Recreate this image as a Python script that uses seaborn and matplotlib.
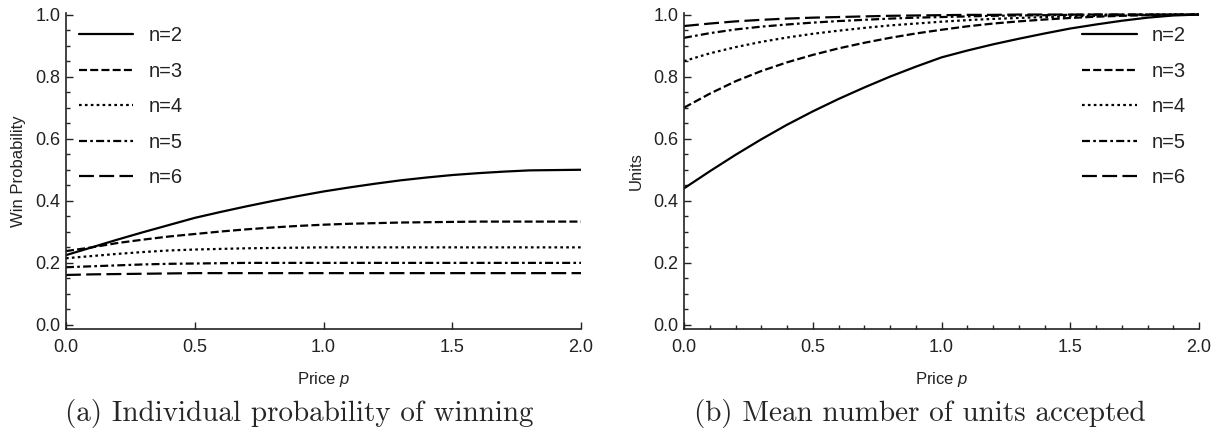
import numpy as np
import pandas as pd
import matplotlib
matplotlib.use("Agg")
import matplotlib.pyplot as plt
from matplotlib.ticker import MultipleLocator
import seaborn as sns

# ---------------- data ----------------
price = [0.0, 0.1, 0.2, 0.3, 0.4, 0.5, 0.6, 0.7, 0.8, 0.9, 1.0,
         1.1, 1.2, 1.3, 1.4, 1.5, 1.6, 1.7, 1.8, 1.9, 2.0]
series_names = ["n=2", "n=3", "n=4", "n=5", "n=6"]

win_n2 = [0.225, 0.250, 0.275, 0.299, 0.322, 0.345, 0.364, 0.382, 0.399, 0.415, 0.430,
          0.443, 0.455, 0.466, 0.475, 0.483, 0.489, 0.494, 0.498, 0.499, 0.500]
win_n3 = [0.238, 0.250, 0.264, 0.275, 0.285, 0.293, 0.301, 0.308, 0.314, 0.319, 0.323,
          0.326, 0.328, 0.330, 0.331, 0.332, 0.333, 0.333, 0.333, 0.333, 0.333]
win_n4 = [0.215, 0.222, 0.229, 0.235, 0.240, 0.243, 0.245, 0.247, 0.248, 0.249, 0.250,
          0.250, 0.250, 0.250, 0.250, 0.250, 0.250, 0.250, 0.250, 0.250, 0.250]
win_n5 = [0.186, 0.189, 0.192, 0.195, 0.197, 0.198, 0.199, 0.200, 0.200, 0.200, 0.200,
          0.200, 0.200, 0.200, 0.200, 0.200, 0.200, 0.200, 0.200, 0.200, 0.200]
win_n6 = [0.161, 0.163, 0.164, 0.165, 0.166, 0.167, 0.167, 0.167, 0.167, 0.167, 0.167,
          0.167, 0.167, 0.167, 0.167, 0.167, 0.167, 0.167, 0.167, 0.167, 0.167]

units_n2 = [0.440, 0.495, 0.548, 0.598, 0.645, 0.688, 0.728, 0.765, 0.800, 0.832, 0.862,
            0.884, 0.904, 0.922, 0.939, 0.955, 0.968, 0.980, 0.990, 0.997, 1.000]
units_n3 = [0.700, 0.745, 0.785, 0.818, 0.846, 0.870, 0.891, 0.909, 0.925, 0.939, 0.951,
            0.962, 0.971, 0.978, 0.984, 0.989, 0.993, 0.996, 0.998, 0.999, 1.000]
units_n4 = [0.850, 0.875, 0.895, 0.912, 0.926, 0.938, 0.948, 0.957, 0.965, 0.971, 0.977,
            0.982, 0.986, 0.989, 0.992, 0.994, 0.996, 0.998, 0.999, 1.000, 1.000]
units_n5 = [0.925, 0.940, 0.952, 0.961, 0.968, 0.974, 0.979, 0.983, 0.987, 0.990, 0.992,
            0.994, 0.996, 0.997, 0.998, 0.999, 1.000, 1.000, 1.000, 1.000, 1.000]
units_n6 = [0.963, 0.971, 0.978, 0.983, 0.987, 0.990, 0.992, 0.994, 0.996, 0.997, 0.998,
            0.999, 0.999, 1.000, 1.000, 1.000, 1.000, 1.000, 1.000, 1.000, 1.000]

x_ticks = [0.0, 0.5, 1.0, 1.5, 2.0]
y_ticks = [0.0, 0.2, 0.4, 0.6, 0.8, 1.0]

win_series = [win_n2, win_n3, win_n4, win_n5, win_n6]
units_series = [units_n2, units_n3, units_n4, units_n5, units_n6]


def long_df(series):
    rows = []
    for name, vals in zip(series_names, series):
        for xv, yv in zip(price, vals):
            rows.append({"price": xv, "value": yv, "n": name})
    return pd.DataFrame(rows)


df_win = long_df(win_series)
df_units = long_df(units_series)

# ---------------- style ----------------
sns.set_theme(style="ticks")
plt.rcParams["font.family"] = ["Liberation Sans", "DejaVu Sans"]
plt.rcParams["mathtext.fontset"] = "custom"
plt.rcParams["mathtext.rm"] = "Liberation Sans"
plt.rcParams["mathtext.it"] = "Liberation Sans:italic"

dash_map = {
    "n=2": "",
    "n=3": (3.6, 1.45),
    "n=4": (1.2, 1.45),
    "n=5": (3.6, 1.45, 1.2, 1.45),
    "n=6": (6.7, 2.4),
}

fig = plt.figure(figsize=(12.11, 4.41), dpi=100)
ax_l = fig.add_axes([66 / 1211, 1 - 329 / 441, 515 / 1211, (329 - 13) / 441])
ax_r = fig.add_axes([684 / 1211, 1 - 329 / 441, 515 / 1211, (329 - 13) / 441])

tick_fs = 13
leg_fs = 14.5
lab_fs = 12
for ax, df, ylabel, xminor in [(ax_l, df_win, "Win Probability", False),
                               (ax_r, df_units, "Units", True)]:
    sns.lineplot(data=df, x="price", y="value", style="n", style_order=series_names,
                 dashes=dash_map, color="black", linewidth=1.6, ax=ax, legend=True)
    ax.set_xlim(0, 2.0)
    ax.set_ylim(-0.013, 1.005)
    ax.set_xticks(x_ticks)
    ax.set_yticks(y_ticks)
    ax.set_xticklabels([f"{t:.1f}" for t in x_ticks])
    ax.set_yticklabels([f"{t:.1f}" for t in y_ticks])
    ax.yaxis.set_minor_locator(MultipleLocator(0.05))
    if xminor:
        ax.xaxis.set_minor_locator(MultipleLocator(0.1))
    ax.tick_params(axis="both", which="major", direction="in", length=5, width=1,
                   labelsize=tick_fs, color="#222222", labelcolor="#222222")
    ax.tick_params(axis="y", which="major", pad=4)
    ax.tick_params(axis="x", which="major", pad=7)
    ax.tick_params(axis="both", which="minor", direction="in", length=3, width=1,
                   color="#222222")
    for s in ["top", "right"]:
        ax.spines[s].set_visible(False)
    for s in ["left", "bottom"]:
        ax.spines[s].set_linewidth(1.2)
        ax.spines[s].set_color("#222222")
    ax.set_xlabel("Price $p$", fontsize=lab_fs, color="#222222", labelpad=10)
    ax.set_ylabel(ylabel, fontsize=lab_fs, color="#222222", labelpad=7)

    handles, labels = ax.get_legend_handles_labels()
    if ax is ax_l:
        leg = ax.legend(handles, labels, loc="upper left", bbox_to_anchor=(0.0, 1.0),
                        frameon=False, fontsize=leg_fs, handlelength=2.7,
                        handletextpad=0.75, labelspacing=0.82, borderaxespad=0.25)
    else:
        leg = ax.legend(handles, labels, loc="upper right", bbox_to_anchor=(1.0, 1.0),
                        frameon=False, fontsize=leg_fs, handlelength=2.7,
                        handletextpad=0.75, labelspacing=0.82, borderaxespad=0.25)
    for t in leg.get_texts():
        t.set_color("#222222")

fig.text(299 / 1211, 1 - 413 / 441, "(a) Individual probability of winning",
         family="cmr10", fontsize=21, ha="center", va="center")
fig.text(920 / 1211, 1 - 413 / 441, "(b) Mean number of units accepted",
         family="cmr10", fontsize=21, ha="center", va="center")

fig.savefig("out.png", dpi=100)
